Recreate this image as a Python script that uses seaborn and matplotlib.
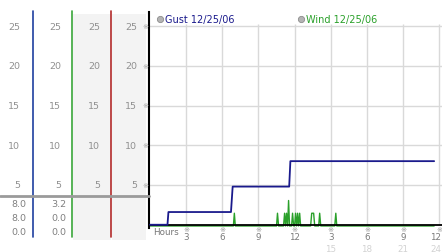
import numpy as np
import pandas as pd
import matplotlib
matplotlib.use("Agg")
import matplotlib.pyplot as plt
import matplotlib.transforms as mtransforms
from matplotlib.patches import Rectangle
from matplotlib.lines import Line2D
import seaborn as sns

# ---------------- data ----------------
gust_hours = [0.0, 1.45, 1.53, 6.72, 6.86, 11.55, 11.65, 23.58]
gust_mph = [0.0, 0.0, 1.6, 1.6, 4.8, 4.8, 8.0, 8.0]

wind_hours = [0.0, 6.92, 7.0, 7.08, 10.5, 10.58, 10.67, 11.08, 11.17, 11.25,
              11.33, 11.42, 11.5, 11.58, 11.75, 11.83, 11.92, 12.0, 12.08,
              12.17, 12.25, 12.33, 12.42, 12.5, 13.33, 13.42, 13.5, 13.58,
              13.67, 14.0, 14.08, 14.17, 15.33, 15.42, 15.5, 23.58]
wind_mph = [0.0, 0.0, 1.6, 0.0, 0.0, 1.6, 0.0, 0.0, 1.6, 0.0,
            1.6, 0.0, 3.2, 0.0, 0.0, 1.6, 0.0, 0.0, 1.6,
            0.0, 1.6, 0.0, 1.6, 0.0, 0.0, 1.6, 1.6, 1.6,
            0.0, 0.0, 1.6, 0.0, 0.0, 1.6, 0.0, 0.0]

series_names = ["Gust 12/25/06", "Wind 12/25/06"]
y_ticks = [5, 10, 15, 20, 25]
hour_ticks = [3, 6, 9, 12, 15, 18, 21, 24]
hour_labels = ["3", "6", "9", "12", "3", "6", "9", "12"]
hour_labels_24 = ["", "", "", "", "15", "18", "21", "24"]

gust_df = pd.DataFrame({"hours": gust_hours, "mph": gust_mph})
wind_df = pd.DataFrame({"hours": wind_hours, "mph": wind_mph})

# ---------------- style ----------------
sns.set_theme(style="white")
plt.rcParams["font.family"] = ["DejaVu Sans"]

GUST_C = "#1a1a8c"
WIND_C = "#2aa02a"
GRID_C = "#d9d9d9"

W, H = 442, 253
fig = plt.figure(figsize=(W / 100, H / 100), dpi=100)
fig.patch.set_facecolor("white")


def fx(p):
    return p / W


def fy(p):
    return 1 - p / H


Y0_PX, PX_PER = 225.75, 7.95
X0_PX, PXH = 150.0, 12.05

ax = fig.add_axes([fx(149), fy(229), fx(442) - fx(149), fy(13) - fy(229)])
ax.set_xlim((149 - X0_PX) / PXH, (442 - X0_PX) / PXH)
ax.set_ylim((Y0_PX - 229) / PX_PER, (Y0_PX - 13) / PX_PER)
ax.patch.set_alpha(0)

# grid
for v in y_ticks:
    ax.axhline(v, color=GRID_C, lw=1, zorder=0)
ax.vlines(hour_ticks, 0, y_ticks[-1] + 0.2, color=GRID_C, lw=1, zorder=0)

# series
sns.lineplot(data=wind_df, x="hours", y="mph", color=WIND_C, lw=1.0,
             estimator=None, sort=False, ax=ax, zorder=2)
wline = ax.lines[-1]
wline.set_transform(ax.transData + mtransforms.ScaledTranslation(0, -1.2 / 100, fig.dpi_scale_trans))
sns.lineplot(data=gust_df, x="hours", y="mph", color=GUST_C, lw=1.3,
             estimator=None, sort=False, ax=ax, zorder=4)
ax.axhline(0, color="black", lw=1.3, zorder=3)

ax.set_xlabel("")
ax.set_ylabel("")
ax.set_xticks([])
ax.set_yticks([])
for s in ["top", "right", "bottom"]:
    ax.spines[s].set_visible(False)
ax.spines["left"].set_color("black")
ax.spines["left"].set_linewidth(1.5)

# x tick labels
bx = mtransforms.blended_transform_factory(ax.transData, fig.transFigure)
last = hour_ticks[-1]
for h, lab, lab24 in zip(hour_ticks, hour_labels, hour_labels_24):
    fig.text(h, fy(230.5), "\u203b", transform=bx, ha="center", va="center",
             fontsize=5.2, color="#999999")
    if h == last:
        xt = (441.5 - X0_PX) / PXH
        ha = "right"
    else:
        xt = h
        ha = "center"
    fig.text(xt, fy(237.5), lab, transform=bx, ha=ha, va="center",
             fontsize=6.3, color="#7a7a7a")
    if lab24:
        fig.text(xt, fy(249.5), lab24, transform=bx, ha=ha, va="center",
                 fontsize=6.3, color="#d2d2d2")
fig.text(fx(153), fy(232.5), "Hours", ha="left", va="center", fontsize=6.3,
         color="#777777")

# legend
for (cx, name, col) in [(160, series_names[0], GUST_C), (301, series_names[1], WIND_C)]:
    fig.add_artist(Line2D([fx(cx)], [fy(20)], marker="o", ms=4.5, mfc="#b4b4b4",
                          mec="#8c8c8c", mew=0.6, transform=fig.transFigure))
    fig.text(fx(cx + 5), fy(20), name, ha="left", va="center", fontsize=7,
             color=col)

# ---------------- left panel ----------------
for x0, x1 in [(73, 111), (112, 146)]:
    fig.add_artist(Rectangle((fx(x0), fy(241)), fx(x1) - fx(x0), fy(15) - fy(241),
                             transform=fig.transFigure, facecolor="#f3f3f3",
                             edgecolor="none", zorder=1))
for xp, col in [(33, "#1f3f9f"), (72, "#3aa63a"), (111, "#b22a2a")]:
    fig.add_artist(Line2D([fx(xp), fx(xp)], [fy(12), fy(238)], color=col, lw=1.2,
                          transform=fig.transFigure, zorder=2))
fig.add_artist(Line2D([0, fx(149)], [fy(197.3), fy(197.3)], color="#9a9a9a", lw=2,
                      transform=fig.transFigure, zorder=2))

by = mtransforms.blended_transform_factory(fig.transFigure, ax.transData)
for xr in [20, 61, 100, 137]:
    for v in y_ticks:
        fig.text(fx(xr), v, str(v), transform=by, ha="right", va="center",
                 fontsize=6.8, color="#909090")
for v in y_ticks:
    fig.text(fx(145), v, "\u203b", transform=by, ha="center", va="center",
             fontsize=5.2, color="#a0a0a0")

# summary: max, last, min
for xr, vals in [(26.7, gust_mph), (66, wind_mph)]:
    summ = [max(vals), vals[-1], min(vals)]
    for yp, s in zip([205, 218.3, 232.5], summ):
        fig.text(fx(xr), fy(yp), f"{s:.1f}", ha="right", va="center",
                 fontsize=6.8, color="#808080")

fig.savefig("out.png", dpi=100)
